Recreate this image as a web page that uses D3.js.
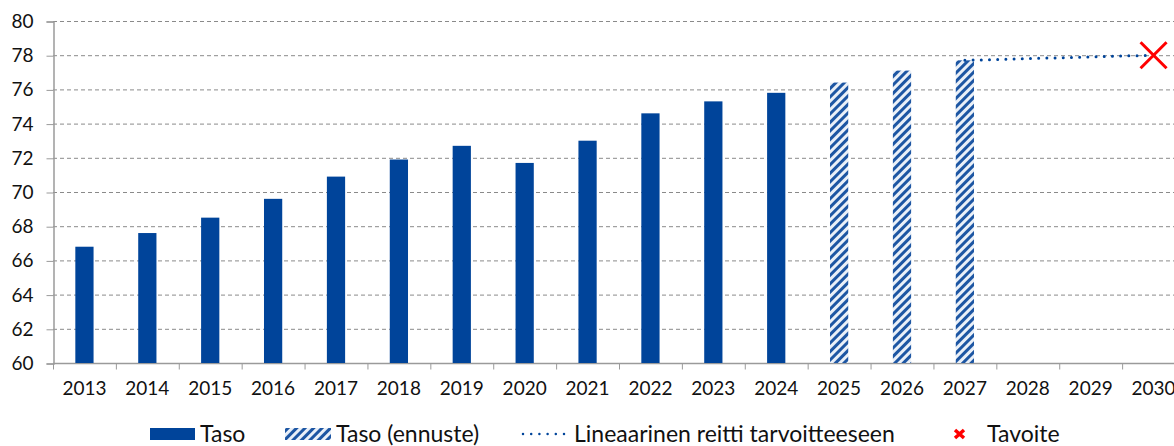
<!DOCTYPE html>
<html>
<head>
<meta charset="utf-8">
<script src="https://cdn.jsdelivr.net/npm/d3@7"></script>
<style>
  body { margin: 0; background: #fff; }
  svg { display: block; font-family: Lato, "Open Sans", sans-serif; }
</style>
</head>
<body>
<svg id="chart" width="1174" height="446"></svg>
<script>
// data
var years = ['2013','2014','2015','2016','2017','2018','2019','2020','2021','2022','2023','2024','2025','2026','2027','2028','2029','2030'];
var actualYears = ['2013','2014','2015','2016','2017','2018','2019','2020','2021','2022','2023','2024'];
var actualValues = [66.8, 67.6, 68.5, 69.6, 70.9, 71.9, 72.7, 71.7, 73.0, 74.6, 75.3, 75.8];
var forecastYears = ['2025','2026','2027'];
var forecastValues = [76.4, 77.1, 77.7];
var pathYears = ['2027','2028','2029','2030'];
var pathValues = [77.7, 77.8, 77.9, 78.0];
var targetYear = '2030';
var targetValue = 78;
var yTicks = [60,62,64,66,68,70,72,74,76,78,80];
var legendLabels = ['Taso', 'Taso (ennuste)', 'Lineaarinen reitti tarvoitteeseen', 'Tavoite'];

var blue = '#00449a';
var svg = d3.select('#chart');
var plotLeft = 53, plotTop = 21, plotBottom = 363, plotRight = 1185;

var x = d3.scaleBand().domain(years).range([plotLeft, plotRight]).paddingInner(0.71).paddingOuter(0.355);
var xb = d3.scaleBand().domain(years).range([plotLeft, plotRight]); // for ticks/labels
var y = d3.scaleLinear().domain([60, 80]).range([plotBottom, plotTop]);

// hatch pattern
var defs = svg.append('defs');
var pat = defs.append('pattern')
  .attr('id', 'hatch')
  .attr('patternUnits', 'userSpaceOnUse')
  .attr('width', 6).attr('height', 6)
  .attr('patternTransform', 'rotate(45)');
pat.append('rect').attr('width', 6).attr('height', 6).attr('fill', '#eaf0f8');
pat.append('rect').attr('width', 3).attr('height', 6).attr('fill', '#1d56a3');

// gridlines
svg.append('g').selectAll('line').data(yTicks.slice(1))
  .enter().append('line')
  .attr('x1', plotLeft).attr('x2', plotRight)
  .attr('y1', function(d) { return y(d) + 0.5; })
  .attr('y2', function(d) { return y(d) + 0.5; })
  .attr('stroke', '#8a8a8a')
  .attr('stroke-dasharray', '4,3');

// y axis
var yAxis = svg.append('g').attr('transform', 'translate(' + (plotLeft + 0.5) + ',0.5)')
  .call(d3.axisLeft(y).tickValues(yTicks).tickSize(7).tickPadding(13));
yAxis.select('.domain').attr('stroke', '#9a9a9a').attr('stroke-width', 1.5);
yAxis.selectAll('.tick line').attr('stroke', '#9a9a9a');
yAxis.selectAll('.tick text').attr('font-size', 19).attr('fill', '#111').attr('font-family', 'Lato, sans-serif');

// x axis
var xg = svg.append('g').attr('transform', 'translate(0,' + (plotBottom + 0.5) + ')');
xg.append('line').attr('x1', plotLeft).attr('x2', plotRight).attr('stroke', '#9a9a9a').attr('stroke-width', 1.5);
xg.selectAll('.xt').data(years).enter().append('line')
  .attr('x1', function(d) { return xb(d) + 0.5; })
  .attr('x2', function(d) { return xb(d) + 0.5; })
  .attr('y1', 0).attr('y2', 6)
  .attr('stroke', '#9a9a9a');
xg.selectAll('text').data(years).enter().append('text')
  .attr('x', function(d) { return xb(d) + xb.bandwidth() / 2; })
  .attr('y', 31)
  .attr('text-anchor', 'middle')
  .attr('font-size', 19)
  .attr('fill', '#111')
  .text(function(d) { return d; });

// actual bars
svg.append('g').selectAll('rect').data(actualValues)
  .enter().append('rect')
  .attr('x', function(d, i) { return x(actualYears[i]); })
  .attr('y', function(d) { return y(d); })
  .attr('width', x.bandwidth())
  .attr('height', function(d) { return y(60) - y(d); })
  .attr('fill', blue);

// forecast bars
svg.append('g').selectAll('rect').data(forecastValues)
  .enter().append('rect')
  .attr('x', function(d, i) { return x(forecastYears[i]); })
  .attr('y', function(d) { return y(d); })
  .attr('width', x.bandwidth())
  .attr('height', function(d) { return y(60) - y(d); })
  .attr('fill', 'url(#hatch)');

// linear path
var line = d3.line()
  .x(function(d, i) { return xb(pathYears[i]) + xb.bandwidth() / 2; })
  .y(function(d) { return y(d); });
svg.append('path').datum(pathValues)
  .attr('d', line)
  .attr('fill', 'none')
  .attr('stroke', blue)
  .attr('stroke-width', 3)
  .attr('stroke-linecap', 'round')
  .attr('stroke-dasharray', '0,8.2');

// target marker
var tx = xb(targetYear) + xb.bandwidth() / 2, ty = y(targetValue);
svg.append('path')
  .attr('d', 'M' + (tx - 13) + ',' + (ty - 13) + 'L' + (tx + 13) + ',' + (ty + 13) +
             'M' + (tx + 13) + ',' + (ty - 13) + 'L' + (tx - 13) + ',' + (ty + 13))
  .attr('stroke', '#ff0000').attr('stroke-width', 3);

// legend
var lg = svg.append('g').attr('transform', 'translate(0,434)');
lg.append('rect').attr('x', 150).attr('y', -6).attr('width', 45).attr('height', 12).attr('fill', blue);
lg.append('rect').attr('x', 285).attr('y', -6).attr('width', 46).attr('height', 12).attr('fill', 'url(#hatch)');
lg.append('line').attr('x1', 523).attr('x2', 565).attr('y1', 0).attr('y2', 0)
  .attr('stroke', blue).attr('stroke-width', 2.5).attr('stroke-linecap', 'round').attr('stroke-dasharray', '0,8.2');
lg.append('path').attr('d', 'M955,-4L964,4M964,-4L955,4').attr('stroke', '#ff0000').attr('stroke-width', 3.5);
var legX = [200, 336, 574, 987];
lg.selectAll('text').data(legendLabels).enter().append('text')
  .attr('x', function(d, i) { return legX[i]; })
  .attr('y', 8)
  .attr('font-size', 23)
  .attr('fill', '#111')
  .text(function(d) { return d; });
</script>
</body>
</html>
